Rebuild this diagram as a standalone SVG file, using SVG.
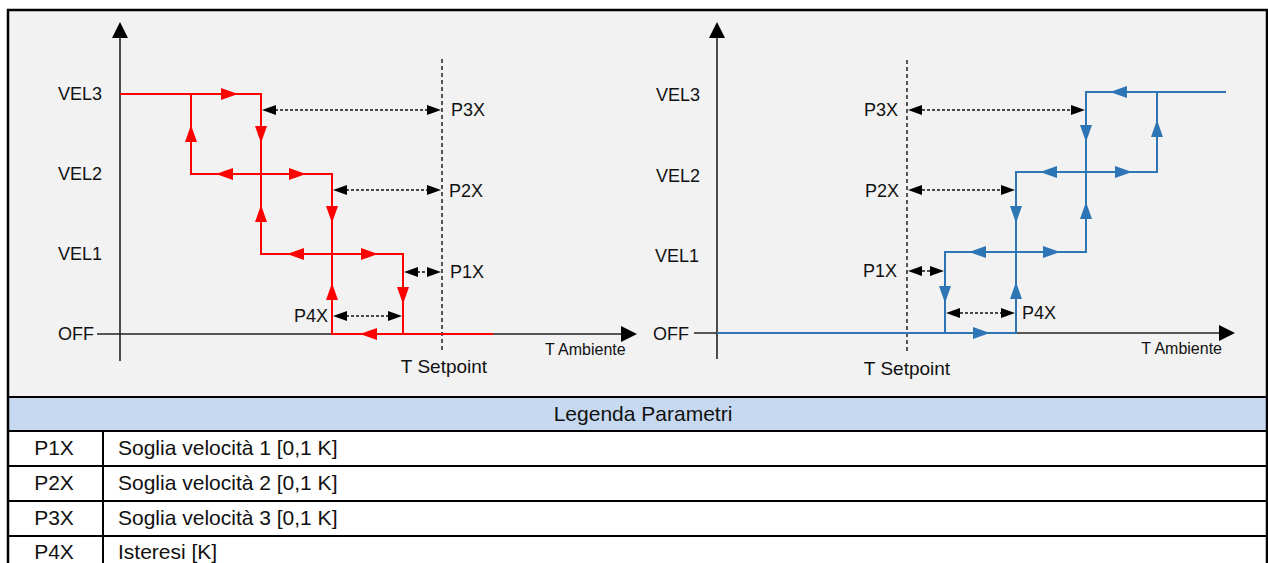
<svg xmlns="http://www.w3.org/2000/svg" xmlns:xlink="http://www.w3.org/1999/xlink" width="1268" height="563" viewBox="0 0 1268 563">
<style>
  text { font-family: "Liberation Sans", Arial, sans-serif; fill: #111; }
  .lbl { font-size: 18px; }
  .sp { font-size: 19px; }
  .small { font-size: 16px; }
  .tbl { font-size: 21px; }
  .axis { stroke: #222; stroke-width: 1.6; fill: none; }
  .red { stroke: #ff0000; stroke-width: 2; fill: none; }
  .blue { stroke: #2e75b6; stroke-width: 2; fill: none; }
  .setp { stroke: #111; stroke-width: 1.4; stroke-dasharray: 4 3; fill: none; }
  .dim { stroke: #111; stroke-width: 1.4; stroke-dasharray: 3 2; fill: none; }
  .grid { stroke: #000; stroke-width: 2; fill: none; }
</style>
<defs>
  <path id="tri" d="M0,0 L-17,-6 L-17,6 Z"/>
  <path id="dtri" d="M0,0 L-14,-5 L-14,5 Z" fill="#000"/>
  <path id="atri" d="M0,0 L-16,-8 L-16,8 Z" fill="#000"/>
</defs>

<!-- backgrounds -->
<rect x="8" y="10" width="1259" height="387" fill="#f2f2f2"/>
<rect x="8" y="397" width="1259" height="34" fill="#c6d9f0"/>
<rect x="8" y="431" width="1259" height="132" fill="#ffffff"/>

<!-- LEFT CHART -->
<g id="left-axes">
  <line class="axis" x1="120" y1="361" x2="120" y2="36"/>
  <use href="#atri" transform="translate(120,22) rotate(-90)"/>
  <line class="axis" x1="97" y1="334" x2="622" y2="334"/>
  <use href="#atri" transform="translate(637,334)"/>
  <text class="lbl" x="102" y="100" text-anchor="end">VEL3</text>
  <text class="lbl" x="102" y="180" text-anchor="end">VEL2</text>
  <text class="lbl" x="102" y="260" text-anchor="end">VEL1</text>
  <text class="lbl" x="94" y="340" text-anchor="end">OFF</text>
  <text class="small" x="545" y="355">T Ambiente</text>
</g>
<g id="left-setpoint">
  <line class="setp" x1="442" y1="59" x2="442" y2="352"/>
  <text class="sp" x="444" y="373" text-anchor="middle">T Setpoint</text>
</g>
<g id="left-curve">
  <path class="red" d="M120,94 H261 V254 H403 V334"/>
  <path class="red" d="M191,94 V174 H332 V334 H493"/>
  <g fill="#ff0000">
    <use href="#tri" transform="translate(238,94)"/>
    <use href="#tri" transform="translate(191,125) rotate(-90)"/>
    <use href="#tri" transform="translate(261,143) rotate(90)"/>
    <use href="#tri" transform="translate(216,174) rotate(180)"/>
    <use href="#tri" transform="translate(306,174)"/>
    <use href="#tri" transform="translate(261,205) rotate(-90)"/>
    <use href="#tri" transform="translate(332,223) rotate(90)"/>
    <use href="#tri" transform="translate(287,254) rotate(180)"/>
    <use href="#tri" transform="translate(378,254)"/>
    <use href="#tri" transform="translate(332,283) rotate(-90)"/>
    <use href="#tri" transform="translate(403,304) rotate(90)"/>
    <use href="#tri" transform="translate(360,334) rotate(180)"/>
  </g>
</g>
<g id="left-dims">
  <line class="dim" x1="275" y1="110" x2="427" y2="110"/>
  <use href="#dtri" transform="translate(262,110) rotate(180)"/>
  <use href="#dtri" transform="translate(441,110)"/>
  <text class="lbl" x="451" y="116">P3X</text>
  <line class="dim" x1="346" y1="190" x2="427" y2="190"/>
  <use href="#dtri" transform="translate(333,190) rotate(180)"/>
  <use href="#dtri" transform="translate(441,190)"/>
  <text class="lbl" x="449" y="197">P2X</text>
  <line class="dim" x1="417" y1="272" x2="427" y2="272"/>
  <use href="#dtri" transform="translate(404,272) rotate(180)"/>
  <use href="#dtri" transform="translate(441,272)"/>
  <text class="lbl" x="450" y="278">P1X</text>
  <line class="dim" x1="346" y1="316" x2="389" y2="316"/>
  <use href="#dtri" transform="translate(333,316) rotate(180)"/>
  <use href="#dtri" transform="translate(402,316)"/>
  <text class="lbl" x="328" y="322" text-anchor="end">P4X</text>
</g>

<!-- RIGHT CHART -->
<g id="right-axes">
  <line class="axis" x1="717" y1="359" x2="717" y2="36"/>
  <use href="#atri" transform="translate(717,22) rotate(-90)"/>
  <line class="axis" x1="694" y1="333" x2="1220" y2="333"/>
  <use href="#atri" transform="translate(1235,333)"/>
  <text class="lbl" x="700" y="101" text-anchor="end">VEL3</text>
  <text class="lbl" x="700" y="182" text-anchor="end">VEL2</text>
  <text class="lbl" x="699" y="262" text-anchor="end">VEL1</text>
  <text class="lbl" x="689" y="340" text-anchor="end">OFF</text>
  <text class="small" x="1222" y="354" text-anchor="end">T Ambiente</text>
</g>
<g id="right-setpoint">
  <line class="setp" x1="907" y1="60" x2="907" y2="353"/>
  <text class="sp" x="907" y="375" text-anchor="middle">T Setpoint</text>
</g>
<g id="right-curve">
  <path class="blue" d="M717,333 H1016 V172 H1157 V92"/>
  <path class="blue" d="M945,333 V252 H1086 V92 H1226"/>
  <g fill="#2e75b6">
    <use href="#tri" transform="translate(1110,92) rotate(180)"/>
    <use href="#tri" transform="translate(1086,142) rotate(90)"/>
    <use href="#tri" transform="translate(1157,120) rotate(-90)"/>
    <use href="#tri" transform="translate(1040,172) rotate(180)"/>
    <use href="#tri" transform="translate(1132,172)"/>
    <use href="#tri" transform="translate(1016,223) rotate(90)"/>
    <use href="#tri" transform="translate(1086,202) rotate(-90)"/>
    <use href="#tri" transform="translate(969,252) rotate(180)"/>
    <use href="#tri" transform="translate(1060,252)"/>
    <use href="#tri" transform="translate(945,303) rotate(90)"/>
    <use href="#tri" transform="translate(1016,282) rotate(-90)"/>
    <use href="#tri" transform="translate(990,333)"/>
  </g>
</g>
<g id="right-dims">
  <line class="dim" x1="922" y1="110" x2="1071" y2="110"/>
  <use href="#dtri" transform="translate(908,110) rotate(180)"/>
  <use href="#dtri" transform="translate(1085,110)"/>
  <text class="lbl" x="898" y="116" text-anchor="end">P3X</text>
  <line class="dim" x1="922" y1="190" x2="1001" y2="190"/>
  <use href="#dtri" transform="translate(908,190) rotate(180)"/>
  <use href="#dtri" transform="translate(1015,190)"/>
  <text class="lbl" x="899" y="197" text-anchor="end">P2X</text>
  <line class="dim" x1="922" y1="271" x2="930" y2="271"/>
  <use href="#dtri" transform="translate(908,271) rotate(180)"/>
  <use href="#dtri" transform="translate(944,271)"/>
  <text class="lbl" x="897" y="277" text-anchor="end">P1X</text>
  <line class="dim" x1="960" y1="313" x2="1001" y2="313"/>
  <use href="#dtri" transform="translate(946,313) rotate(180)"/>
  <use href="#dtri" transform="translate(1015,313)"/>
  <text class="lbl" x="1022" y="319">P4X</text>
</g>

<!-- TABLE -->
<g id="legend-table">
  <line class="grid" x1="8" y1="397" x2="1267" y2="397"/>
  <line class="grid" x1="8" y1="431" x2="1267" y2="431"/>
  <line class="grid" x1="8" y1="466" x2="1267" y2="466"/>
  <line class="grid" x1="8" y1="501" x2="1267" y2="501"/>
  <line class="grid" x1="8" y1="536" x2="1267" y2="536"/>
  <line class="grid" x1="103" y1="431" x2="103" y2="563"/>
  <text class="tbl" x="643" y="421" text-anchor="middle">Legenda Parametri</text>
  <text class="tbl" x="54" y="455" text-anchor="middle">P1X</text>
  <text class="tbl" x="118" y="455">Soglia velocità 1 [0,1 K]</text>
  <text class="tbl" x="54" y="490" text-anchor="middle">P2X</text>
  <text class="tbl" x="118" y="490">Soglia velocità 2 [0,1 K]</text>
  <text class="tbl" x="54" y="525" text-anchor="middle">P3X</text>
  <text class="tbl" x="118" y="525">Soglia velocità 3 [0,1 K]</text>
  <text class="tbl" x="54" y="559" text-anchor="middle">P4X</text>
  <text class="tbl" x="118" y="559">Isteresi [K]</text>
</g>

<!-- outer frame -->
<rect x="8" y="10" width="1259" height="556" fill="none" stroke="#000" stroke-width="2.5"/>
</svg>
